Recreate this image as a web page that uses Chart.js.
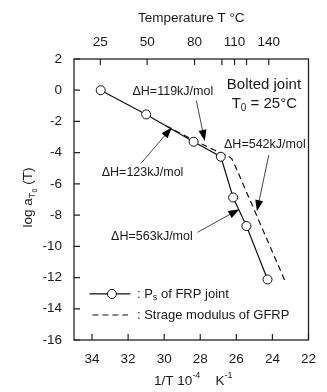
<!DOCTYPE html>
<html>
<head>
<meta charset="utf-8">
<script src="https://cdn.jsdelivr.net/npm/chart.js@4"></script>
<style>
  html, body { margin: 0; padding: 0; background: #fff; }
  #wrap { width: 327px; height: 392px; }
</style>
</head>
<body>
<div id="wrap"><canvas id="chart" width="327" height="392"></canvas></div>
<script>
const FONT = '"Liberation Sans", Arial, Helvetica, sans-serif';
const INK = '#1a1a1a';

// Ps of FRP joint: x = 1/T (1e-4 K^-1), y = log aT0
const jointX = [33.52, 31.0, 28.37, 26.86, 26.18, 25.44, 24.27];
const jointY = [0, -1.55, -3.3, -4.26, -6.87, -8.7, -12.12];

// storage modulus of GFRP (dashed)
const gfrpX = [29.9, 28.37, 27.0, 26.45, 26.25, 26.1, 23.31];
const gfrpY = [-2.28, -3.2, -3.95, -4.2, -4.4, -4.75, -12.2];

// axis ticks
const invTempTicks = [34, 32, 30, 28, 26, 24, 22];
const logTicks = [2, 0, -2, -4, -6, -8, -10, -12, -14, -16];
const tempTicks = [25, 50, 80, 100, 110, 120, 140];
const tempLabels = ['25', '50', '80', '', '110', '', '140'];

// activation energy notes: text position, arrow tail, arrow tip (data units)
const notes = [
  { text: '\u0394H=119kJ/mol', at: [29.52, -0.1], from: [28.22, -0.65], to: [27.75, -3.25] },
  { text: '\u0394H=123kJ/mol', at: [31.2, -5.3], from: [31.28, -4.68], to: [29.58, -2.38] },
  { text: '\u0394H=542kJ/mol', at: [24.42, -3.5], from: [24.2, -4.15], to: [24.86, -7.75] },
  { text: '\u0394H=563kJ/mol', at: [30.68, -9.4], from: [28.15, -9.1], to: [25.83, -7.62] },
];

const pts = (xs, ys) => xs.map((x, i) => ({ x, y: ys[i] }));

// draws a run of text pieces with sub/superscripts, centred on (x, y)
function richText(ctx, parts, x, y) {
  let w = 0;
  parts.forEach((p) => {
    ctx.font = `${p.size}px ${FONT}`;
    w += ctx.measureText(p.t).width;
  });
  let cx = x - w / 2;
  ctx.textAlign = 'left';
  ctx.textBaseline = 'middle';
  parts.forEach((p) => {
    ctx.font = `${p.size}px ${FONT}`;
    ctx.fillText(p.t, cx, y + (p.dy || 0));
    cx += ctx.measureText(p.t).width;
  });
}

function arrow(ctx, x1, y1, x2, y2) {
  const a = Math.atan2(y2 - y1, x2 - x1);
  const len = 11;
  const hw = 4;
  ctx.beginPath();
  ctx.moveTo(x1, y1);
  ctx.lineTo(x2 - Math.cos(a) * len * 0.8, y2 - Math.sin(a) * len * 0.8);
  ctx.lineWidth = 0.9;
  ctx.strokeStyle = '#333';
  ctx.stroke();
  ctx.beginPath();
  ctx.moveTo(x2, y2);
  ctx.lineTo(x2 - Math.cos(a) * len - Math.sin(a) * hw, y2 - Math.sin(a) * len + Math.cos(a) * hw);
  ctx.lineTo(x2 - Math.cos(a) * len + Math.sin(a) * hw, y2 - Math.sin(a) * len - Math.cos(a) * hw);
  ctx.closePath();
  ctx.fillStyle = '#000';
  ctx.fill();
}

const decor = {
  id: 'decor',
  afterDraw(chart) {
    const { ctx, chartArea: area, scales: { x, y, x2 } } = chart;
    const px = (v) => x.getPixelForValue(v);
    const py = (v) => y.getPixelForValue(v);
    ctx.save();

    // frame
    ctx.strokeStyle = '#222';
    ctx.lineWidth = 1.3;
    ctx.strokeRect(area.left, area.top, area.right - area.left, area.bottom - area.top);

    // inward ticks
    const tick = 6;
    ctx.lineWidth = 1.2;
    ctx.beginPath();
    x.ticks.forEach((t) => {
      const p = px(t.value);
      ctx.moveTo(p, area.bottom);
      ctx.lineTo(p, area.bottom - tick);
    });
    x2.ticks.forEach((t) => {
      const p = x2.getPixelForValue(t.value);
      ctx.moveTo(p, area.top);
      ctx.lineTo(p, area.top + tick);
    });
    y.ticks.forEach((t) => {
      const p = py(t.value);
      ctx.moveTo(area.left, p);
      ctx.lineTo(area.left + tick, p);
    });
    ctx.stroke();

    ctx.fillStyle = INK;

    // y title, rotated
    ctx.save();
    ctx.translate(28, (area.top + area.bottom) / 2 - 2);
    ctx.rotate(-Math.PI / 2);
    richText(ctx, [
      { t: 'log a', size: 13.5 },
      { t: 'T', size: 9.5, dy: 4 },
      { t: '0', size: 7, dy: 7 },
      { t: ' (T)', size: 13.5 },
    ], 0, 0);
    ctx.restore();

    // bottom title
    richText(ctx, [
      { t: '1/T 10', size: 13.5 },
      { t: '-4', size: 9, dy: -5 },
      { t: '    K', size: 13.5 },
      { t: '-1', size: 9, dy: -5 },
    ], (area.left + area.right) / 2 + 2, 381);

    // notes with arrows
    notes.forEach((n) => {
      arrow(ctx, px(n.from[0]), py(n.from[1]), px(n.to[0]), py(n.to[1]));
      ctx.fillStyle = INK;
      richText(ctx, [{ t: n.text, size: 12.5 }], px(n.at[0]), py(n.at[1]));
    });

    // case label
    richText(ctx, [{ t: 'Bolted joint', size: 15 }], px(24.47), py(0.35));
    richText(ctx, [
      { t: 'T', size: 15 },
      { t: '0', size: 10, dy: 4 },
      { t: ' = 25\u00B0C', size: 15 },
    ], px(24.45), py(-0.88));

    // legend
    const ly1 = py(-13.05);
    const ly2 = py(-14.4);
    ctx.strokeStyle = '#111';
    ctx.lineWidth = 1.2;
    ctx.beginPath();
    ctx.moveTo(px(34.14), ly1);
    ctx.lineTo(px(31.88), ly1);
    ctx.stroke();
    ctx.beginPath();
    ctx.arc(px(32.9), ly1, 4.5, 0, Math.PI * 2);
    ctx.fillStyle = '#fff';
    ctx.fill();
    ctx.lineWidth = 1;
    ctx.stroke();
    ctx.setLineDash([6, 4]);
    ctx.lineWidth = 1.2;
    ctx.beginPath();
    ctx.moveTo(px(33.98), ly2);
    ctx.lineTo(px(32.0), ly2);
    ctx.stroke();
    ctx.setLineDash([]);

    ctx.fillStyle = INK;
    ctx.textAlign = 'left';
    ctx.textBaseline = 'middle';
    ctx.font = `13px ${FONT}`;
    let lx = px(31.51);
    ctx.fillText(': P', lx, ly1);
    lx += ctx.measureText(': P').width;
    ctx.font = `9px ${FONT}`;
    ctx.fillText('s', lx, ly1 + 4);
    lx += ctx.measureText('s').width;
    ctx.font = `13px ${FONT}`;
    ctx.fillText(' of FRP joint', lx, ly1);
    ctx.fillText(': Strage modulus of GFRP', px(31.51), ly2);

    ctx.restore();
  },
};

new Chart(document.getElementById('chart'), {
  type: 'scatter',
  data: {
    datasets: [
      {
        label: 'Ps of FRP joint',
        data: pts(jointX, jointY),
        showLine: true,
        borderColor: '#111',
        borderWidth: 1.2,
        pointRadius: 4.5,
        pointBackgroundColor: '#fff',
        pointBorderColor: '#111',
        pointBorderWidth: 1,
        order: 1,
      },
      {
        label: 'Strage modulus of GFRP',
        data: pts(gfrpX, gfrpY),
        showLine: true,
        borderColor: '#111',
        borderWidth: 1.2,
        borderDash: [6, 4],
        pointRadius: 0,
        order: 2,
      },
    ],
  },
  options: {
    responsive: false,
    animation: false,
    events: [],
    layout: { padding: { left: 0, right: 11, top: 0, bottom: 0 } },
    plugins: { legend: { display: false }, tooltip: { enabled: false } },
    scales: {
      x: {
        type: 'linear',
        position: 'bottom',
        reverse: true,
        min: 22,
        max: 35,
        grid: { display: false, drawTicks: false },
        border: { display: false },
        afterBuildTicks: (s) => { s.ticks = invTempTicks.map((v) => ({ value: v })); },
        afterFit: (s) => { s.height = 52; },
        ticks: {
          autoSkip: false,
          maxRotation: 0,
          padding: 11,
          color: INK,
          font: { family: FONT, size: 13.5 },
        },
      },
      x2: {
        type: 'linear',
        position: 'top',
        reverse: true,
        min: 22,
        max: 35,
        grid: { display: false, drawTicks: false },
        border: { display: false },
        afterBuildTicks: (s) => {
          s.ticks = tempTicks.map((t) => ({ value: 1e4 / (t + 273.15) }));
        },
        afterFit: (s) => { s.height = 59; },
        title: {
          display: true,
          text: 'Temperature T \u00B0C',
          color: INK,
          font: { family: FONT, size: 13.5 },
          padding: { top: 10, bottom: 0 },
        },
        ticks: {
          autoSkip: false,
          maxRotation: 0,
          padding: 9,
          color: INK,
          font: { family: FONT, size: 13.5 },
          callback: (v, i) => tempLabels[i],
        },
      },
      y: {
        type: 'linear',
        min: -16,
        max: 2,
        grid: { display: false, drawTicks: false },
        border: { display: false },
        afterBuildTicks: (s) => { s.ticks = logTicks.map((v) => ({ value: v })); },
        afterFit: (s) => { s.width = 74; },
        ticks: {
          autoSkip: false,
          padding: 12,
          color: INK,
          font: { family: FONT, size: 13.5 },
        },
      },
    },
  },
  plugins: [decor],
});
</script>
</body>
</html>
